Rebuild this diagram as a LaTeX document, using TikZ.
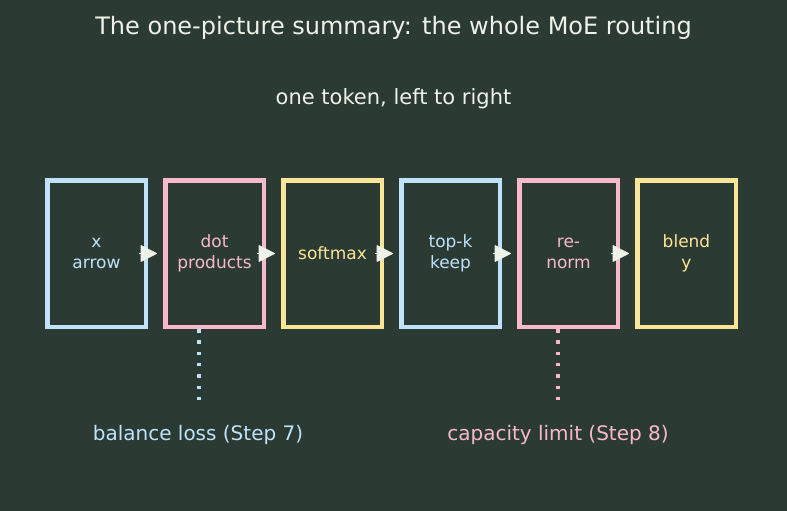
\documentclass[tikz,border=0pt]{standalone}
\usepackage{fontspec}
\setmainfont{DejaVu Sans}
\usetikzlibrary{positioning,arrows.meta,backgrounds}

\definecolor{bgdark}{HTML}{2B3A33}
\definecolor{paleblue}{HTML}{BFE1FA}
\definecolor{palepink}{HTML}{F8BACB}
\definecolor{paleyellow}{HTML}{FBE597}
\definecolor{offwhite}{HTML}{EEF2E8}

\tikzset{
  stage/.style={draw=#1,text=#1,line width=4.5pt,minimum width=98.5pt,minimum height=146.5pt,
    inner sep=0pt,align=center,font=\fontsize{17}{21}\selectfont},
  flow/.style={draw=offwhite,fill=offwhite,line width=1pt,line join=round,
    -{Triangle[length=17pt,width=17pt,round]}},
  tether/.style={draw=#1,line width=3.5pt,dash pattern=on 3.5pt off 7.8pt},
  note/.style={text=#1,inner sep=0pt,font=\fontsize{20}{24}\selectfont}
}

\begin{document}
\begin{tikzpicture}[x=1pt,y=-1pt]
\useasboundingbox (0,0) rectangle (787,511);
\begin{scope}[on background layer]
\fill[bgdark] (0,0) rectangle (787,511);
\end{scope}

% Title
\node (title) [text=offwhite,font=\fontsize{24}{28}\selectfont] at (393.5,27.5) {The one-picture summary: the whole MoE routing};
\node (sub) [text=offwhite,font=\fontsize{21}{25}\selectfont] at (393.5,98.5) {one token, left to right};

% Stages
\node (x) [stage=paleblue] at (96.5,253.5) {x\\arrow};
\node (dot) [stage=palepink,right=15pt of x] {dot\\products};
\node (soft) [stage=paleyellow,right=15pt of dot] {softmax};
\node (topk) [stage=paleblue,right=15pt of soft] {top-k\\keep};
\node (renorm) [stage=palepink,right=15pt of topk] {re-\\norm};
\node (blend) [stage=paleyellow,right=15pt of renorm] {blend\\y};

% Arrows
\foreach \a/\b in {x/dot,dot/soft,soft/topk,topk/renorm,renorm/blend}
  \draw[flow] ([xshift=-9pt]\a.east) -- ([xshift=-6pt]\b.west);

% Side notes
\node (bal) [note=paleblue] at (198,434.5) {balance loss (Step 7)};
\node (cap) [note=palepink] at (558,434.5) {capacity limit (Step 8)};
\coordinate (balfoot) at (199,405);
\coordinate (capfoot) at (558,405);

% Dotted tethers
\draw[tether=paleblue] (balfoot |- dot.south) -- (balfoot);
\draw[tether=palepink] (capfoot |- renorm.south) -- (capfoot);

\end{tikzpicture}
\end{document}
